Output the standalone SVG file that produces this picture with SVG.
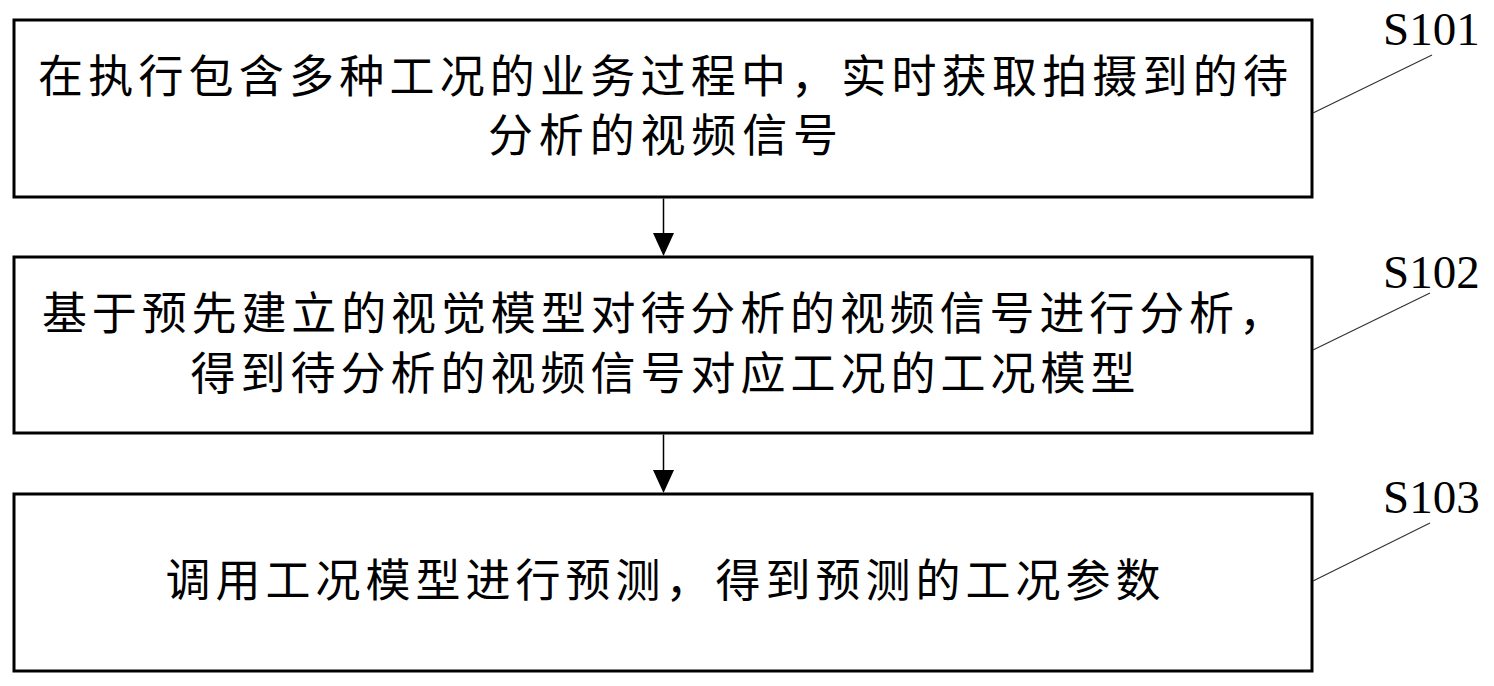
<svg xmlns="http://www.w3.org/2000/svg" width="1494" height="686" viewBox="0 0 1494 686">
<style>
.box{fill:#fff;stroke:#000;stroke-width:3}
.t{font-family:"Noto Sans CJK SC","Noto Sans CJK JP",sans-serif;font-size:45px;fill:#000;text-anchor:middle}
.lbl{font-family:"Liberation Serif","Times New Roman",serif;font-size:47px;fill:#000}
.lead{stroke:#333;stroke-width:1.2;fill:none}
.conn{stroke:#000;stroke-width:1.5}
.head{fill:#000}
</style>
<rect width="1494" height="686" fill="#fff"/>
<g id="S101">
<rect class="box" x="14" y="20" width="1298" height="177"/>
<text class="t" x="663" y="93" textLength="1250" lengthAdjust="spacing">在执行包含多种工况的业务过程中，实时获取拍摄到的待</text>
<text class="t" x="663" y="152" textLength="350" lengthAdjust="spacing">分析的视频信号</text>
<text class="lbl" x="1383" y="45">S101</text>
<line class="lead" x1="1432" y1="55" x2="1313" y2="113"/>
</g>
<g id="S102">
<rect class="box" x="14" y="257" width="1298" height="176"/>
<text class="t" x="663" y="330" textLength="1242" lengthAdjust="spacing">基于预先建立的视觉模型对待分析的视频信号进行分析，</text>
<text class="t" x="663" y="390" textLength="945" lengthAdjust="spacing">得到待分析的视频信号对应工况的工况模型</text>
<text class="lbl" x="1383" y="288">S102</text>
<line class="lead" x1="1430" y1="293" x2="1313" y2="350"/>
</g>
<g id="S103">
<rect class="box" x="14" y="494" width="1298" height="177"/>
<text class="t" x="663" y="597" textLength="995" lengthAdjust="spacing">调用工况模型进行预测，得到预测的工况参数</text>
<text class="lbl" x="1383" y="513">S103</text>
<line class="lead" x1="1430" y1="523" x2="1313" y2="581"/>
</g>
<g id="connectors">
<line class="conn" x1="663.5" y1="198.5" x2="663.5" y2="234"/>
<polygon class="head" points="653,233 674,233 663.5,256"/>
<line class="conn" x1="663.5" y1="434.5" x2="663.5" y2="471"/>
<polygon class="head" points="653,470 674,470 663.5,493"/>
</g>
</svg>
